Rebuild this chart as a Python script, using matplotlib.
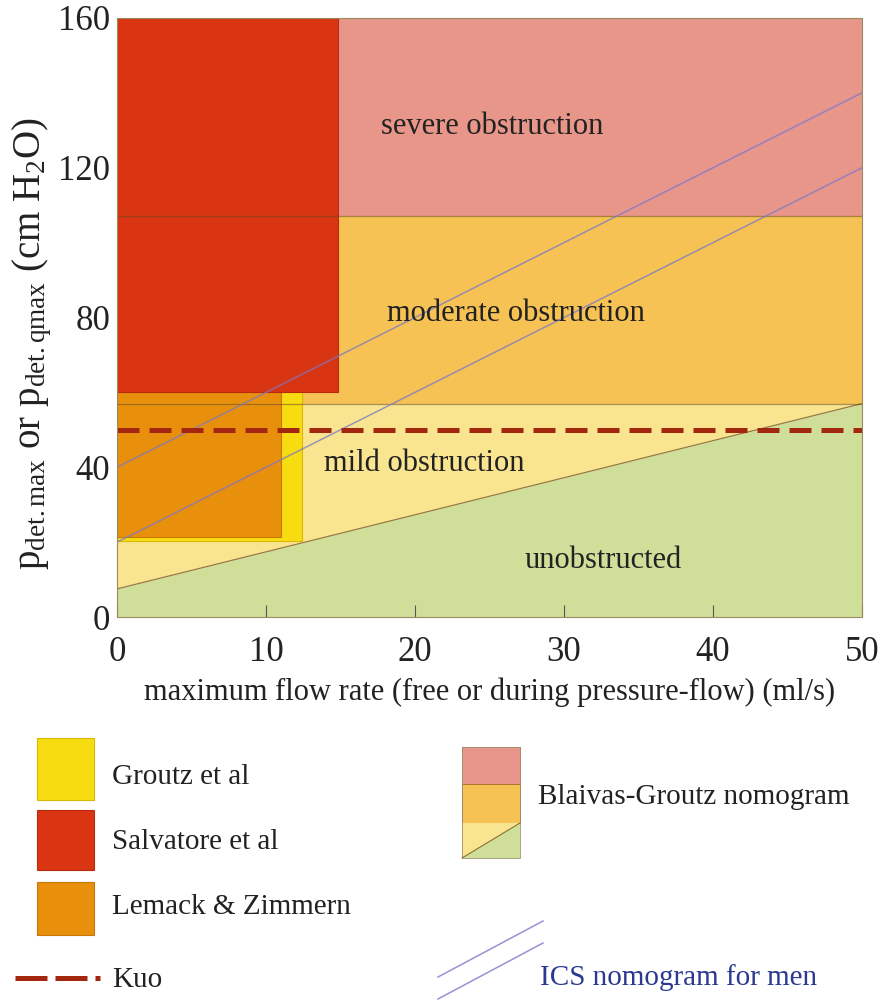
import matplotlib
matplotlib.use("Agg")
import matplotlib.pyplot as plt
from matplotlib.patches import Rectangle, Polygon
import numpy as np

plt.rcParams["font.family"] = ["Liberation Serif", "DejaVu Serif"]
plt.rcParams["mathtext.fontset"] = "custom"
plt.rcParams["mathtext.rm"] = "Liberation Serif"
plt.rcParams["mathtext.it"] = "Liberation Serif:italic"

# ---- data (flow in ml/s, pressure in cm H2O) ----
x_range = [0, 50]
y_range = [0, 160]
x_ticks = [0, 10, 20, 30, 40, 50]
y_ticks = [0, 40, 80, 120, 160]

# Blaivas-Groutz nomogram zone limits
bg_severe_min = 107
bg_moderate_min = 57
bg_line_flow = [0, 50]          # unobstructed / mild boundary
bg_line_pressure = [7.5, 57]

# criteria boxes: (max flow, min pressure)
groutz = (12.4, 20.2)
lemack = (11.0, 21.5)
salvatore = (14.8, 60)
kuo_pressure = 50

# ICS nomogram for men: p = a + b*Q
ics_intercepts = [40, 20]
ics_slope = 2

zone_labels = ["severe obstruction", "moderate obstruction", "mild obstruction", "unobstructed"]
zone_label_pos = [(25.2, 131), (26.8, 81), (20.6, 41), (32.6, 15)]

c_severe = "#e8968a"
c_moderate = "#f5c253"
c_mild = "#f9e590"
c_unobs = "#cfdf99"
c_groutz = "#f7dc12"
c_salv = "#d93513"
c_lemack = "#e8900c"
c_kuo = "#a3270f"
c_ics = "#7c78c8"
c_text = "#222222"

fig = plt.figure(figsize=(8.86, 10), dpi=100)
ax = fig.add_axes([117 / 886, 1 - 617 / 1000, 745 / 886, 599 / 1000])

# zones
xs = np.array(bg_line_flow, dtype=float)
ys = np.array(bg_line_pressure, dtype=float)
ax.fill_between(xs, 0, ys, color=c_unobs, lw=0, zorder=1)
ax.fill_between(xs, ys, bg_moderate_min, color=c_mild, lw=0, zorder=1)
ax.fill_between(xs, bg_moderate_min, bg_severe_min, color=c_moderate, lw=0, zorder=1)
ax.fill_between(xs, bg_severe_min, y_range[1], color=c_severe, lw=0, zorder=1)

# criteria boxes
for (q, p), fc, ec in [(groutz, c_groutz, "#d8b800"),
                       (lemack, c_lemack, "#c87808"),
                       (salvatore, c_salv, "#b82a10")]:
    ax.add_patch(Rectangle((0, p), q, y_range[1] - p, facecolor=fc,
                           edgecolor=ec, lw=0.8, zorder=2))

# nomogram boundaries
bcol = "#6a4a20"
ax.plot(xs, ys, color=bcol, lw=0.9, alpha=0.7, zorder=3)
ax.axhline(bg_moderate_min, color=bcol, lw=0.9, alpha=0.55, zorder=3)
ax.axhline(bg_severe_min, color=bcol, lw=0.9, alpha=0.55, zorder=3)

# ICS lines
qq = np.array(x_range, dtype=float)
for a in ics_intercepts:
    ax.plot(qq, a + ics_slope * qq, color=c_ics, lw=1.1, alpha=0.75, zorder=4)

# Kuo
ax.axhline(kuo_pressure, color=c_kuo, lw=3.6, dashes=(4.4, 2.0),
           dash_capstyle="butt", zorder=5)

for t, (x, y) in zip(zone_labels, zone_label_pos):
    ax.text(x, y, t, fontsize=22, color=c_text, ha="center", va="center", zorder=6)

ax.set_xlim(*x_range)
ax.set_ylim(*y_range)
ax.set_xticks(x_ticks)
ax.set_yticks(y_ticks)
ax.tick_params(axis="x", direction="in", length=9, width=0.8, color="#555555",
               labelsize=25, pad=14, labelcolor=c_text)
ax.tick_params(axis="y", length=0, labelsize=25, pad=5, labelcolor=c_text)
for s in ax.spines.values():
    s.set_visible(False)
ax.add_patch(Rectangle((0, 0), 50, 160, fill=False, edgecolor="#9a8a60", lw=0.8,
                       zorder=7, clip_on=False))
ax.set_xlabel("maximum flow rate (free or during pressure-flow) (ml/s)",
              fontsize=22, labelpad=6, color=c_text)
ax.set_ylabel(r"p$_{\mathrm{det.max}}$ or p$_{\mathrm{det.qmax}}$ (cm H$_2$O)",
              fontsize=28, color=c_text)
ax.yaxis.set_label_coords(-0.085, 0.456)

# ---- legend (pixel layout) ----
lg = fig.add_axes([0, 0, 1, 0.29])
lg.set_xlim(0, 886)
lg.set_ylim(1000, 710)
lg.axis("off")

legend_items = [("Groutz et al", c_groutz, "#d8b800", 738, 62, 777),
                ("Salvatore et al", c_salv, "#b82a10", 810, 60, 842),
                ("Lemack & Zimmern", c_lemack, "#c87808", 882, 53, 907)]
for name, fc, ec, y0, h, ty in legend_items:
    lg.add_patch(Rectangle((37, y0), 57, h, facecolor=fc, edgecolor=ec, lw=0.8))
    lg.text(112, ty, name, fontsize=21, va="center", ha="left", color=c_text)

lg.plot([15, 100], [978, 978], color=c_kuo, lw=3.6,
        dashes=(6.4, 1.6, 6.4, 1.6, 1.0, 10), dash_capstyle="butt")
lg.text(112, 980, "Kuo", fontsize=21, va="center", ha="left", color=c_text)

# Blaivas-Groutz mini nomogram
bx0, bx1 = 462, 520
lg.add_patch(Rectangle((bx0, 747), bx1 - bx0, 37, facecolor=c_severe, edgecolor="#b07060", lw=0.6))
lg.add_patch(Rectangle((bx0, 784), bx1 - bx0, 39, facecolor=c_moderate, edgecolor="#a07020", lw=0.6))
lg.add_patch(Polygon([(bx0, 823), (bx1, 823), (bx0, 858)], facecolor=c_mild, edgecolor="none"))
lg.add_patch(Polygon([(bx1, 823), (bx1, 858), (bx0, 858)], facecolor=c_unobs, edgecolor="none"))
lg.plot([bx0, bx1], [858, 823], color="#8a7030", lw=0.8)
lg.add_patch(Rectangle((bx0, 747), bx1 - bx0, 111, fill=False, edgecolor="#a09070", lw=0.6))
lg.text(538, 797, "Blaivas-Groutz nomogram", fontsize=21, va="center", ha="left", color=c_text)

# ICS legend
lg.plot([438, 543], [977, 921], color=c_ics, lw=1.1, alpha=0.8)
lg.plot([438, 543], [999, 943], color=c_ics, lw=1.1, alpha=0.8)
lg.text(540, 978, "ICS nomogram for men", fontsize=21, va="center", ha="left", color="#2b3990")

fig.savefig("out.png", dpi=100)
